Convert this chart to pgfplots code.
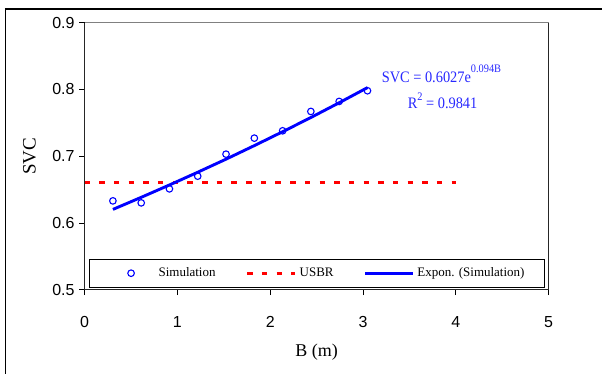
\documentclass[border=0pt]{standalone}
\usepackage{fontspec}
\setmainfont{Liberation Serif}
\newfontfamily\arial{Liberation Sans}
\usepackage{pgfplots}
\pgfplotsset{compat=1.18}
\definecolor{annblue}{RGB}{40,40,255}
\pgfplotsset{
  markleg/.style={legend image code/.code={\path (0pt,0pt) (48pt,0pt); \draw[mark repeat=1,mark phase=1,##1] plot coordinates {(24pt,0pt)};}},
  redleg/.style={legend image code/.code={\draw[##1, line width=3.2pt] (0pt,0pt) -- (48pt,0pt);}},
  blueleg/.style={legend image code/.code={\draw[##1, line width=2.9pt] (0pt,0pt) -- (48pt,0pt);}},
}
\begin{document}
\begin{tikzpicture}
\fill[white] (0pt,0pt) rectangle (603pt,374pt);
\draw[black, line width=1.3pt] (5.7pt,0pt) -- (5.7pt,365pt);
\draw[black, line width=1.5pt] (5pt,365pt) -- (603pt,365pt);
\begin{axis}[
 at={(84.7pt,84pt)}, anchor=south west,
 scale only axis, width=464.6pt, height=267.3pt,
 xmin=0, xmax=5, ymin=0.5, ymax=0.9,
 xtick={0,1,2,3,4,5}, ytick={0.5,0.6,0.7,0.8,0.9},
 tick pos=left, tick align=outside, major tick length=5.5pt,
 tick style={black, line width=0.8pt},
 axis line style={draw=none},
 ticklabel style={font=\arial\fontsize{16}{16}\selectfont},
 /pgf/number format/assume math mode=true,
 yticklabel style={/pgf/number format/fixed, /pgf/number format/precision=1, /pgf/number format/fixed zerofill, xshift=-1pt},
 xticklabel style={yshift=-18pt},
 xlabel={B (m)}, ylabel={SVC},
 xlabel style={font=\fontsize{18}{18}\selectfont, at={(axis description cs:0.5,-0.2357)}, anchor=center},
 ylabel style={font=\fontsize{19}{19}\selectfont, at={(axis description cs:-0.1187,0.5)}, anchor=center},
 clip=false,
 legend columns=3,
 legend style={at={(axis description cs:0.0103,0.0075)}, anchor=south west, draw=black, fill=white,
   font=\fontsize{13}{13}\selectfont, inner xsep=17pt, inner ysep=8pt, column sep=0pt,
   nodes={inner xsep=3pt, inner ysep=0pt, text height=9.5pt, text depth=3pt},
   /tikz/every even column/.append style={column sep=27pt}},
]
\addplot[only marks, mark=o, mark size=3.3pt, blue, line width=1.1pt, markleg]
  coordinates {(0.305,0.633) (0.610,0.630) (0.914,0.651) (1.219,0.670) (1.524,0.703) (1.829,0.727) (2.134,0.738) (2.438,0.767) (2.743,0.782) (3.048,0.798)};
\addlegendentry{Simulation}
\addplot[red, line width=3.2pt, dash pattern=on 5.5pt off 9.2pt, redleg]
  coordinates {(0,0.66) (4,0.66)};
\addlegendentry{USBR}
\addplot[blue, line width=2.9pt, blueleg]
  coordinates {(0.305,0.6202) (0.610,0.6383) (0.914,0.6568) (1.219,0.6759) (1.524,0.6955) (1.829,0.7158) (2.134,0.7366) (2.438,0.7579) (2.743,0.7800) (3.048,0.8027)};
\addlegendentry{Expon. (Simulation)}
\draw[black!85, line width=0.9pt] (rel axis cs:0,1) -- (rel axis cs:0,0) -- (rel axis cs:1,0) -- (rel axis cs:1,1);
\draw[gray, line width=1pt] (rel axis cs:0,1) -- (rel axis cs:1,1);
\node[anchor=base west, text=annblue, inner sep=0pt] at (axis cs:3.20,0.8098)
  {\scalebox{0.9}[1]{\fontsize{16}{16}\selectfont SVC = 0.6027e\raisebox{10.5pt}{\fontsize{11.5}{11.5}\selectfont 0.094B}}};
\node[anchor=base west, text=annblue, inner sep=0pt] at (axis cs:3.48,0.7709)
  {\scalebox{0.9}[1]{\fontsize{16}{16}\selectfont R\raisebox{8.5pt}{\fontsize{11.5}{11.5}\selectfont 2} = 0.9841}};
\end{axis}
\end{tikzpicture}
\end{document}
